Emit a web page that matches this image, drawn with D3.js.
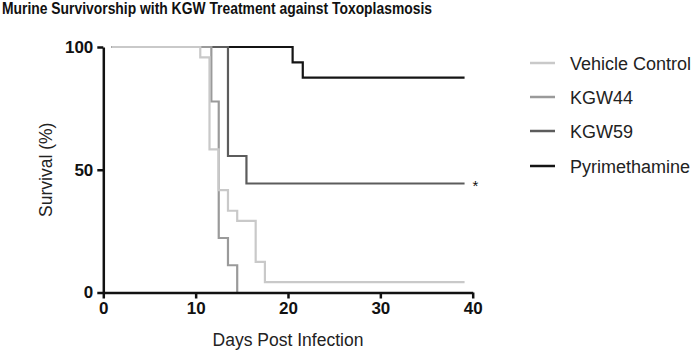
<!DOCTYPE html>
<html>
<head>
<meta charset="utf-8">
<script src="https://cdn.jsdelivr.net/npm/d3@7"></script>
<style>
  html, body { margin: 0; padding: 0; background: #fff; }
  svg { display: block; font-family: "Liberation Sans", Arial, sans-serif; }
</style>
</head>
<body>
<svg id="chart" width="695" height="354"></svg>
<script>
// ---- data ----
const seriesNames = ["Vehicle Control", "KGW44", "KGW59", "Pyrimethamine"];
const vehicleDays = [1, 10.5, 11.5, 12.5, 13.5, 14.5, 16.5, 17.5, 39];
const vehicleSurvival = [100, 95.8, 58.3, 41.7, 33.3, 29.2, 12.5, 4.2, 4.2];
const kgw44Days = [1, 11.7, 12.5, 13.5, 14.5];
const kgw44Survival = [100, 77.8, 22.2, 11.1, 0];
const kgw59Days = [1, 13.5, 15.5, 39];
const kgw59Survival = [100, 55.6, 44.4, 44.4];
const pyriDays = [1, 20.5, 21.6, 39];
const pyriSurvival = [100, 93.75, 87.5, 87.5];
const xTicks = [0, 10, 20, 30, 40];
const yTicks = [0, 50, 100];
const titleText = "Murine Survivorship with KGW Treatment against Toxoplasmosis";
const xLabel = "Days Post Infection";
const yLabel = "Survival (%)";
const significance = "*";

const colors = ["#c9c9c9", "#9a9a9a", "#5c5c5c", "#141414"];

const svg = d3.select("#chart");
const x = d3.scaleLinear().domain([0, 40]).range([103.3, 472.7]);
const y = d3.scaleLinear().domain([0, 100]).range([292.5, 47]);

// title
svg.append("text")
  .attr("x", 2).attr("y", 14)
  .attr("font-size", 16.5).attr("font-weight", "bold")
  .attr("textLength", 430).attr("lengthAdjust", "spacingAndGlyphs")
  .attr("fill", "#111")
  .text(titleText);

// series
const series = [
  {name: seriesNames[0], days: vehicleDays, surv: vehicleSurvival, color: colors[0]},
  {name: seriesNames[1], days: kgw44Days, surv: kgw44Survival, color: colors[1]},
  {name: seriesNames[2], days: kgw59Days, surv: kgw59Survival, color: colors[2]},
  {name: seriesNames[3], days: pyriDays, surv: pyriSurvival, color: colors[3]}
];

const line = d3.line()
  .x(d => x(d[0])).y(d => y(d[1]))
  .curve(d3.curveStepAfter);

// draw order: darkest first, vehicle on top
[3, 2, 1, 0].forEach(i => {
  const s = series[i];
  svg.append("path")
    .datum(s.days.map((d, j) => [d, s.surv[j]]))
    .attr("d", line)
    .attr("fill", "none")
    .attr("stroke", s.color)
    .attr("stroke-width", 2.2)
    .attr("stroke-linejoin", "miter")
    .attr("stroke-linecap", "square");
});

// axes
const xAxis = d3.axisBottom(x).tickValues(xTicks).tickSize(6).tickPadding(3).tickSizeOuter(0);
const gx = svg.append("g").attr("transform", `translate(0,${y(0)})`).call(xAxis);
gx.select(".domain").attr("stroke", "#111").attr("stroke-width", 2.5);
gx.selectAll(".tick line").attr("stroke", "#111").attr("stroke-width", 2.5);
gx.selectAll(".tick text")
  .attr("font-size", 17).attr("font-weight", "bold").attr("fill", "#111")
  .attr("font-family", "Liberation Sans, Arial, sans-serif");

const yAxis = d3.axisLeft(y).tickValues(yTicks).tickSize(6).tickPadding(4).tickSizeOuter(0);
const gy = svg.append("g").attr("transform", `translate(${x(0)},0)`).call(yAxis);
gy.select(".domain").attr("stroke", "#111").attr("stroke-width", 2.5);
gy.selectAll(".tick line").attr("stroke", "#111").attr("stroke-width", 2.5);
gy.selectAll(".tick text")
  .attr("font-size", 17).attr("font-weight", "bold").attr("fill", "#111")
  .attr("font-family", "Liberation Sans, Arial, sans-serif");

// axis labels
svg.append("text")
  .attr("x", (x(0) + x(40)) / 2).attr("y", 346)
  .attr("text-anchor", "middle").attr("font-size", 17.5).attr("fill", "#222")
  .text(xLabel);
svg.append("text")
  .attr("transform", `translate(52,${(y(0) + y(100)) / 2}) rotate(-90)`)
  .attr("text-anchor", "middle").attr("font-size", 17.5).attr("fill", "#222")
  .text(yLabel);

// significance marker
svg.append("text")
  .attr("x", x(39) + 12).attr("y", y(kgw59Survival[kgw59Survival.length - 1]) + 8)
  .attr("text-anchor", "middle").attr("font-size", 15).attr("fill", "#111")
  .text(significance);

// legend
const legendY = [63, 97, 131, 166];
series.forEach((s, i) => {
  svg.append("line")
    .attr("x1", 530).attr("x2", 555)
    .attr("y1", legendY[i]).attr("y2", legendY[i])
    .attr("stroke", s.color).attr("stroke-width", 2.5);
  svg.append("text")
    .attr("x", 570).attr("y", legendY[i] + 6.5)
    .attr("font-size", 18).attr("fill", "#222")
    .text(s.name);
});
</script>
</body>
</html>
